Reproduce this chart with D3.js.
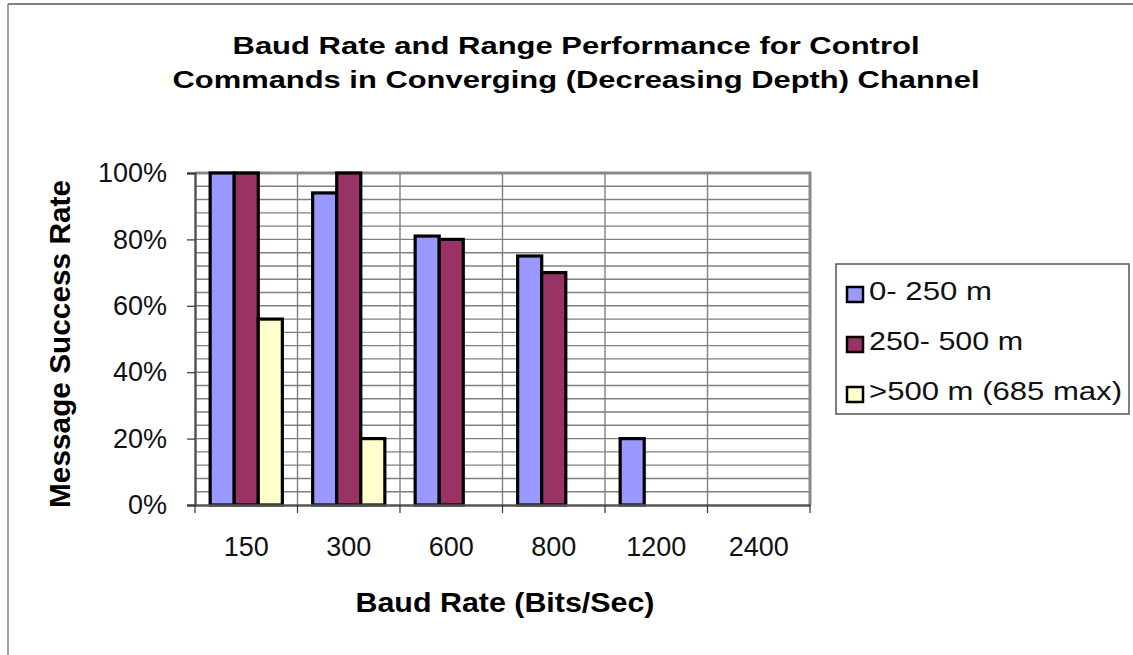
<!DOCTYPE html>
<html>
<head>
<meta charset="utf-8">
<script src="https://cdn.jsdelivr.net/npm/d3@7"></script>
<style>
  body { margin: 0; background: #fff; }
  text { font-family: "Liberation Sans", Arial, sans-serif; }
</style>
</head>
<body>
<div id="chart"></div>
<script>
// data (percent)
var categories = ["150", "300", "600", "800", "1200", "2400"];
var seriesNames = ["0- 250 m", "250- 500 m", ">500 m (685 max)"];
var near = [100, 94, 81, 75, 20, null];
var mid = [100, 100, 80, 70, null, null];
var far = [56, 20, null, null, null, null];
var yTicks = [0, 20, 40, 60, 80, 100];
var colors = ["#9999ff", "#993366", "#ffffcc"];

var width = 1133, height = 655;
var plotLeft = 195, plotRight = 810, plotTop = 173, plotBottom = 505;

var svg = d3.select("#chart").append("svg")
    .attr("width", width)
    .attr("height", height);

// outer chart border (only top and left visible)
svg.append("line").attr("x1", 8).attr("x2", width).attr("y1", 4).attr("y2", 4)
    .attr("stroke", "#808080").attr("stroke-width", 2);
svg.append("line").attr("x1", 8).attr("x2", 8).attr("y1", 4).attr("y2", height)
    .attr("stroke", "#808080").attr("stroke-width", 1.5);

var x = d3.scaleBand()
    .domain(categories)
    .range([plotLeft, plotRight]);

var xInner = d3.scaleBand()
    .domain(d3.range(seriesNames.length))
    .range([0, x.bandwidth()])
    .paddingOuter(0.63);

var y = d3.scaleLinear()
    .domain([0, 100])
    .range([plotBottom, plotTop]);

// horizontal gridlines every 4%
var grid = svg.append("g");
grid.selectAll("line.h")
    .data(d3.range(4, 100, 4))
    .enter().append("line")
    .attr("class", "h")
    .attr("x1", plotLeft).attr("x2", plotRight)
    .attr("y1", function(d) { return y(d); })
    .attr("y2", function(d) { return y(d); })
    .attr("stroke", "#808080")
    .attr("stroke-width", 1.4);

// vertical gridlines at category boundaries
grid.selectAll("line.v")
    .data(categories.slice(1))
    .enter().append("line")
    .attr("class", "v")
    .attr("x1", function(d) { return x(d); })
    .attr("x2", function(d) { return x(d); })
    .attr("y1", plotTop).attr("y2", plotBottom)
    .attr("stroke", "#808080")
    .attr("stroke-width", 1.4);

// plot frame (top and right)
svg.append("path")
    .attr("d", "M" + plotLeft + "," + plotTop + "H" + plotRight + "V" + plotBottom)
    .attr("fill", "none")
    .attr("stroke", "#888")
    .attr("stroke-width", 3);

// bars
var allSeries = [near, mid, far];
allSeries.forEach(function(values, s) {
    svg.append("g").selectAll("rect")
        .data(categories.map(function(c, i) { return {cat: c, v: values[i]}; })
            .filter(function(d) { return d.v !== null; }))
        .enter().append("rect")
        .attr("x", function(d) { return x(d.cat) + xInner(s); })
        .attr("y", function(d) { return y(d.v); })
        .attr("width", xInner.bandwidth())
        .attr("height", function(d) { return y(0) - y(d.v); })
        .attr("fill", colors[s])
        .attr("stroke", "#000")
        .attr("stroke-width", 3.2);
});

// y axis
var yAxis = svg.append("g")
    .attr("transform", "translate(" + plotLeft + ",0)")
    .call(d3.axisLeft(y)
        .tickValues(yTicks)
        .tickSize(8)
        .tickPadding(20)
        .tickFormat(function(d) { return d + "%"; }));
yAxis.select(".domain").attr("stroke", "#555").attr("stroke-width", 2.5);
yAxis.selectAll(".tick line").attr("stroke", "#333").attr("stroke-width", 1.2);
yAxis.selectAll("text")
    .attr("font-size", 27)
    .attr("fill", "#111")
    .style("font-family", "'Liberation Sans', Arial, sans-serif");

// x axis
var xAxis = svg.append("g")
    .attr("transform", "translate(0," + plotBottom + ")")
    .call(d3.axisBottom(x).tickSize(0).tickPadding(32));
xAxis.select(".domain").attr("stroke", "#555").attr("stroke-width", 2.5);
xAxis.selectAll("text")
    .attr("font-size", 27)
    .attr("fill", "#111")
    .style("font-family", "'Liberation Sans', Arial, sans-serif");

// boundary ticks on x axis
svg.append("g").selectAll("line")
    .data(categories.map(function(c) { return x(c); }).concat([plotRight]))
    .enter().append("line")
    .attr("x1", function(d) { return d; })
    .attr("x2", function(d) { return d; })
    .attr("y1", plotBottom).attr("y2", plotBottom + 8)
    .attr("stroke", "#333")
    .attr("stroke-width", 1.2);

// title
var titleLines = [
    {text: "Baud Rate and Range Performance for Control", y: 54, len: 687},
    {text: "Commands in Converging (Decreasing Depth) Channel", y: 88, len: 807}
];
titleLines.forEach(function(t) {
    svg.append("text")
        .attr("x", 576)
        .attr("y", t.y)
        .attr("text-anchor", "middle")
        .attr("font-size", 24)
        .attr("font-weight", "bold")
        .attr("textLength", t.len)
        .attr("lengthAdjust", "spacingAndGlyphs")
        .text(t.text);
});

// axis titles
svg.append("text")
    .attr("x", 505)
    .attr("y", 612)
    .attr("text-anchor", "middle")
    .attr("font-size", 28)
    .attr("font-weight", "bold")
    .attr("textLength", 299)
    .attr("lengthAdjust", "spacingAndGlyphs")
    .text("Baud Rate (Bits/Sec)");

svg.append("text")
    .attr("transform", "translate(70," + ((plotTop + plotBottom) / 2 + 5) + ") rotate(-90)")
    .attr("text-anchor", "middle")
    .attr("font-size", 29)
    .attr("font-weight", "bold")
    .attr("textLength", 328)
    .attr("lengthAdjust", "spacingAndGlyphs")
    .text("Message Success Rate");

// legend
var legend = svg.append("g");
legend.append("rect")
    .attr("x", 836).attr("y", 264)
    .attr("width", 293).attr("height", 150)
    .attr("fill", "#fff")
    .attr("stroke", "#555")
    .attr("stroke-width", 1.5);

var legendLens = [123, 154, 253];
var item = legend.selectAll("g.item")
    .data(seriesNames)
    .enter().append("g")
    .attr("class", "item")
    .attr("transform", function(d, i) { return "translate(0," + (i * 50) + ")"; });
item.append("rect")
    .attr("x", 847).attr("y", 287)
    .attr("width", 16).attr("height", 15)
    .attr("fill", function(d, i) { return colors[i]; })
    .attr("stroke", "#000")
    .attr("stroke-width", 2.5);
item.append("text")
    .attr("x", 869).attr("y", 300)
    .attr("font-size", 25)
    .attr("fill", "#111")
    .attr("textLength", function(d, i) { return legendLens[i]; })
    .attr("lengthAdjust", "spacingAndGlyphs")
    .text(function(d) { return d; });
</script>
</body>
</html>
